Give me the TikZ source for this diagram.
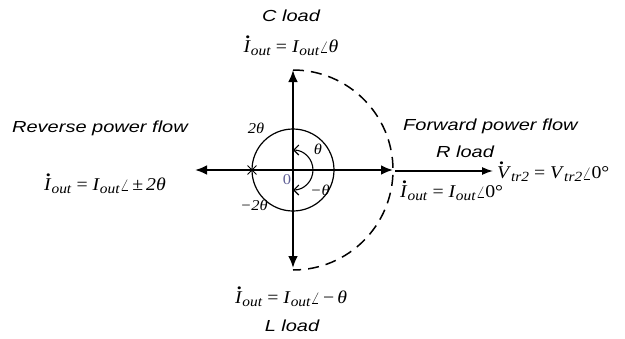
\documentclass[tikz,border=0pt]{standalone}
\usepackage{fontspec}
\setmainfont[FakeStretch=1.1]{Liberation Serif}
\newfontfamily\labf[FakeStretch=1.25]{Liberation Sans}
\usetikzlibrary{arrows.meta,shapes.misc,calc}
\newcommand{\dt}[1]{\leavevmode\rlap{\hspace{0.1em}\raisebox{0.78em}{\textbf{.}}}#1}
\newcommand{\sbs}[1]{\raisebox{-0.35ex}{\fontsize{14}{15}\selectfont\textit{#1}}}
\newcommand{\Idot}{\dt{\textit{I}}\sbs{out}}
\newcommand{\Ip}{\textit{I}\sbs{out}}
\newcommand{\ag}{$\angle$}
\definecolor{zerocol}{RGB}{95,95,150}
\tikzset{
  lab/.style={font=\labf\itshape\fontsize{16}{19}\selectfont, inner sep=0pt},
  eq/.style={font=\fontsize{18}{21}\selectfont, inner sep=0pt},
  ang/.style={font=\fontsize{15}{17}\selectfont, inner sep=0pt},
  axis/.style={line width=2.4pt, -{Latex[length=12pt,width=10pt]}},
  thinarrow/.style={line width=1.4pt, -{Latex[length=11pt,width=8pt]}},
}
\begin{document}
\begin{tikzpicture}[x=1pt,y=-1pt]
\useasboundingbox (0,0) rectangle (625,338);
\coordinate (O) at (293,170);
\coordinate (Rt) at (393,170);
\coordinate (Lt) at (195,170);
\coordinate (Up) at (293,70);
\coordinate (Dn) at (293,268);
\coordinate (Rs) at (395,171);
\coordinate (Re) at (493,171);
\coordinate (Ai) at (293,150);
% axes
\draw[axis] (O) -- (Rt);
\draw[axis] (O) -- (Lt);
\draw[axis] (O) -- (Up);
\draw[axis] (O) -- (Dn);
\draw[thinarrow] (Rs) -- (Re);
% circles
\draw[line width=1.2pt] (O) circle[radius=41pt];
\draw[line width=1.5pt, dash pattern=on 11pt off 7pt] (Up) arc[start angle=90, end angle=-90, radius=100pt];
\draw[line width=1.1pt, {Straight Barb[length=5pt,width=10pt]}-{Straight Barb[length=5pt,width=10pt]}]
  (Ai) arc[start angle=90, end angle=-90, radius=20pt];
\node[draw, cross out, line width=0.9pt, minimum size=8pt, inner sep=0pt] (X) at (252,170) {};
% angle labels
\node[ang] (t2) at (256,128) {\textit{2θ}};
\node[ang] (tm2) at (254,205) {\textit{−2θ}};
\node[ang] (t1) at (318,149) {\textit{θ}};
\node[ang] (tm1) at (320,190) {\textit{−θ}};
\node[ang, text=zerocol] (zero) at (287,180) {0};
% texts
\node[lab] (cl) at (291,16) {C load};
\node[eq] (ceq) at (291,46) {\Idot\ = \Ip\ag\textit{θ}};
\node[lab] (rev) at (100,128) {Reverse power flow};
\node[eq] (reveq) at (105,184) {\Idot\ = \Ip\ag\,±\,\textit{2θ}};
\node[lab, anchor=west] (fwd) at (403,126) {Forward power flow};
\node[lab] (rl) at (465,152) {R load};
\node[eq, anchor=west] (veq) at (497,172) {\dt{\textit{V}}\sbs{tr2} = \textit{V}\sbs{tr2}\ag 0°};
\node[eq, anchor=west] (req) at (400,191) {\Idot\ = \Ip\ag 0°};
\node[eq] (leq) at (291,297) {\Idot\ = \Ip\ag\,−\,\textit{θ}};
\node[lab] (ll) at (292,326) {L load};
\end{tikzpicture}
\end{document}
